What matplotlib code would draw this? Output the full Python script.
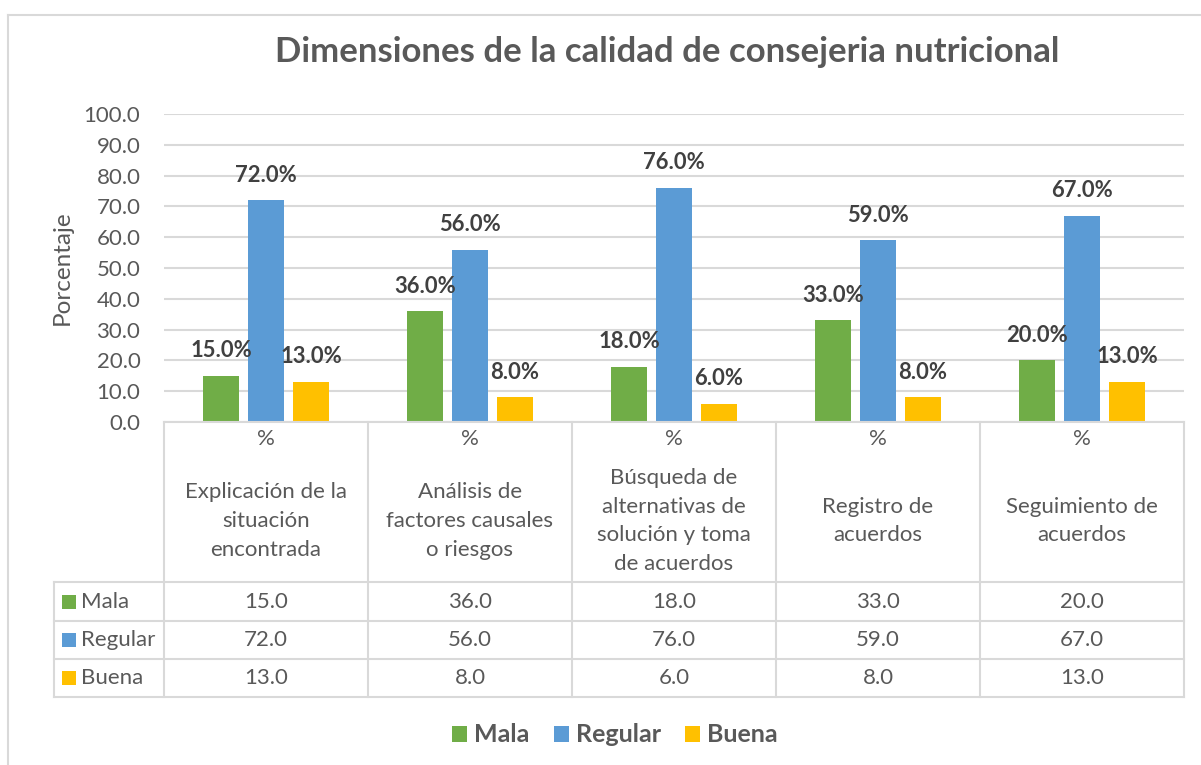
import matplotlib
matplotlib.use("Agg")
import matplotlib.pyplot as plt
from matplotlib.patches import Patch, Rectangle
from matplotlib.lines import Line2D
from matplotlib.transforms import blended_transform_factory

plt.rcParams['font.family'] = ['Lato', 'DejaVu Sans']

# ---- data ----
categories = [
    "Explicación de la\nsituación\nencontrada",
    "Análisis de\nfactores causales\no riesgos",
    "Búsqueda de\nalternativas de\nsolución y toma\nde acuerdos",
    "Registro de\nacuerdos",
    "Seguimiento de\nacuerdos",
]
header_unit = "%"
series_names = ["Mala", "Regular", "Buena"]
mala = [15.0, 36.0, 18.0, 33.0, 20.0]
regular = [72.0, 56.0, 76.0, 59.0, 67.0]
buena = [13.0, 8.0, 6.0, 8.0, 13.0]
yticks = [0, 10, 20, 30, 40, 50, 60, 70, 80, 90, 100]
title = "Dimensiones de la calidad de consejeria nutricional"
ylabel = "Porcentaje"

colors = ["#70AD47", "#5B9BD5", "#FFC000"]
TXT = "#595959"
LBL = "#404040"
GRID = "#D9D9D9"

W, H = 1201, 765
fig = plt.figure(figsize=(W / 100, H / 100), dpi=100)
fig.patch.set_facecolor("white")

def fx(x):
    return x / W

def fy(y):
    return 1 - y / H

# outer chart border
fig.add_artist(Line2D([fx(8), fx(1205)], [fy(15), fy(15)], color=GRID, lw=1.5))
fig.add_artist(Line2D([fx(8), fx(8)], [fy(15), fy(770)], color=GRID, lw=1.5))

ax_l, ax_r, ax_t, ax_b = 164, 1184, 114, 422
ax = fig.add_axes([fx(ax_l), fy(ax_b), (ax_r - ax_l) / W, (ax_b - ax_t) / H])
n = len(categories)
ax.set_xlim(-0.5, n - 0.5)
ax.set_ylim(0, 100)
ax.set_yticks(yticks)
ax.set_yticklabels([f"{v:.1f}" for v in yticks])
ax.tick_params(axis="y", length=0, pad=17, labelsize=16, labelcolor=TXT)
ax.set_xticks([])
for s in ax.spines.values():
    s.set_visible(False)
ax.grid(axis="y", color=GRID, lw=1.5)
ax.set_axisbelow(True)

bw = 36 / 204
off = 45 / 204
data = [mala, regular, buena]
for k, vals in enumerate(data):
    xs = [i + (k - 1) * off for i in range(n)]
    ax.bar(xs, vals, width=bw, color=colors[k], zorder=3)
    for x, v in zip(xs, vals):
        ax.annotate(f"{v:.1f}%", (x, v), xytext=(0, 18), textcoords="offset points",
                    ha="center", va="center", fontsize=15.8, fontweight="bold",
                    color=LBL, zorder=4)

fig.text(fx(62), fy(268), ylabel, rotation=90, ha="center", va="center",
         fontsize=17.5, color=TXT)
fig.text(fx(667), fy(52), title, ha="center", va="center", fontsize=25,
         fontweight="bold", color=TXT)

# ---- data table ----
tr = blended_transform_factory(ax.transData, fig.transFigure)
row_lines = [582, 621, 659, 697]
lw = 1.5
fig.add_artist(Line2D([fx(ax_l), fx(ax_r)], [fy(ax_b), fy(ax_b)], color=GRID, lw=lw))
for y in row_lines:
    fig.add_artist(Line2D([fx(54), fx(ax_r)], [fy(y), fy(y)], color=GRID, lw=lw))
for i in range(n + 1):
    ax.add_artist(Line2D([i - 0.5, i - 0.5], [fy(ax_b), fy(697)], color=GRID, lw=lw,
                         transform=tr, clip_on=False))
fig.add_artist(Line2D([fx(54), fx(54)], [fy(582), fy(697)], color=GRID, lw=lw))

TFS = 16
for i, cat in enumerate(categories):
    ax.text(i, fy(439), header_unit, transform=tr, ha="center", va="center",
            fontsize=TFS, color=TXT, clip_on=False)
    ax.text(i, fy(521), cat, transform=tr, ha="center", va="center",
            fontsize=TFS, color=TXT, linespacing=1.56, clip_on=False)

row_centers = [(row_lines[j] + row_lines[j + 1]) / 2 for j in range(3)]
for k, (name, vals) in enumerate(zip(series_names, data)):
    yc = row_centers[k]
    fig.add_artist(Rectangle((fx(62), fy(yc + 7)), 14 / W, 14 / H,
                             facecolor=colors[k], edgecolor="none"))
    fig.text(fx(81), fy(yc), name, ha="left", va="center", fontsize=TFS, color=TXT)
    for i, v in enumerate(vals):
        ax.text(i, fy(yc), f"{v:.1f}", transform=tr, ha="center", va="center",
                fontsize=TFS, color=TXT, clip_on=False)

handles = [Patch(facecolor=c, edgecolor="none", label=nm) for c, nm in zip(colors, series_names)]
leg = fig.legend(handles=handles, loc="center", bbox_to_anchor=(fx(615), fy(735)),
                 ncol=3, frameon=False, handlelength=0.6, handleheight=0.6,
                 handletextpad=0.3, columnspacing=0.95,
                 prop={"size": 18, "weight": "bold"})
for t in leg.get_texts():
    t.set_color(TXT)

fig.savefig("out.png", dpi=100, facecolor="white")
